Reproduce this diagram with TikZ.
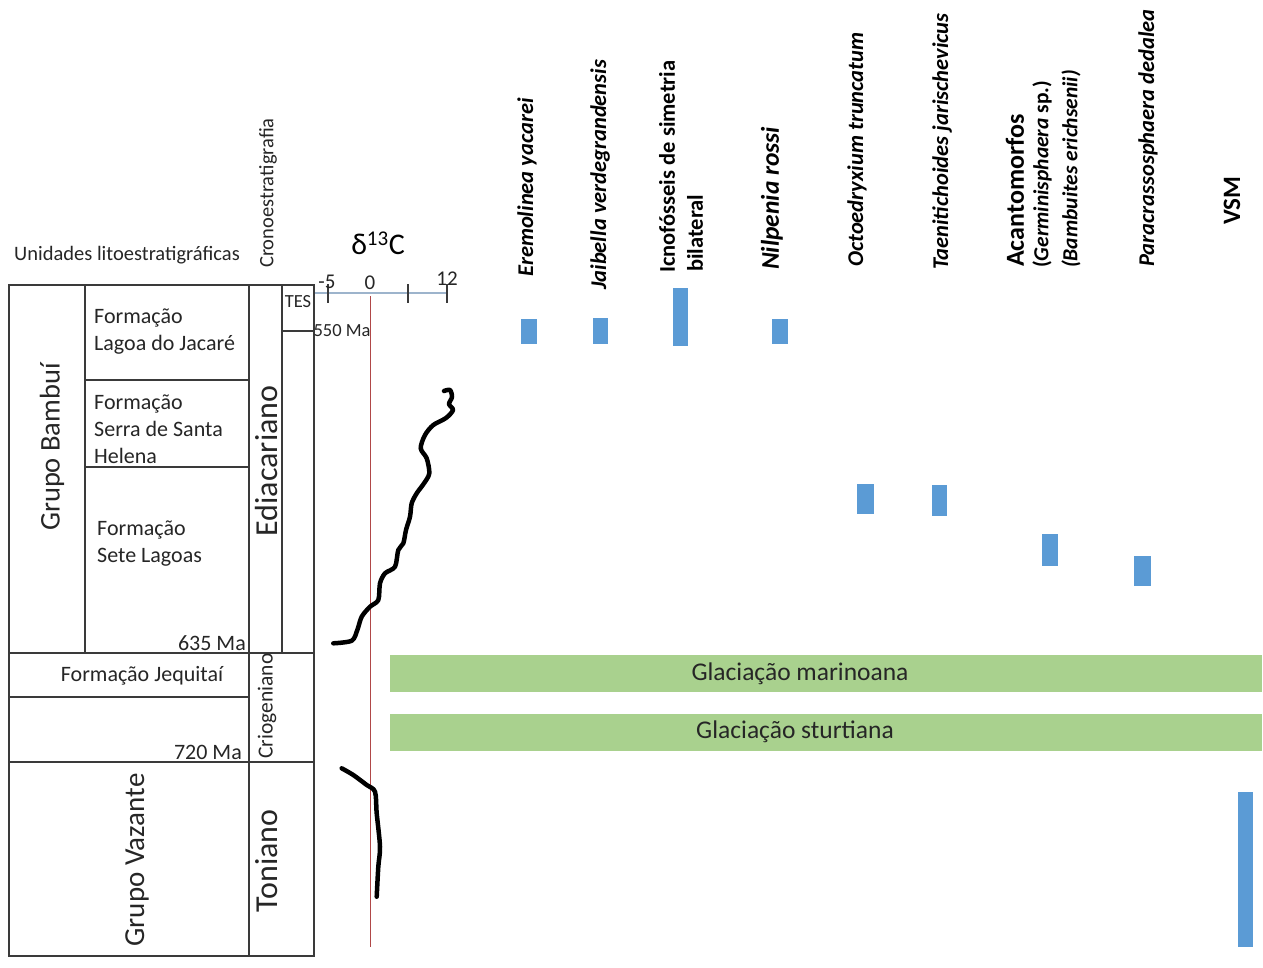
\documentclass[tikz,border=0pt]{standalone}
\usepackage{fontspec}
\setmainfont{Carlito}
\newcommand\fsz[2]{\fontsize{#1}{#2}\selectfont}
\definecolor{barblue}{HTML}{5B9BD5}
\definecolor{glgreen}{HTML}{A9D18E}
\definecolor{axisblue}{HTML}{9DB4CC}
\definecolor{zeroline}{HTML}{B04848}
\definecolor{tcol}{HTML}{3A3A3A}
\tikzset{
  tline/.style={draw=tcol, line width=1.4pt},
  lbl/.style={inner sep=0pt, text=black!85, font=\fsz{22}{27}},
  rlbl/.style={inner sep=0pt, text=black!85, rotate=90},
  species/.style={inner sep=0pt, rotate=90, anchor=west, font=\fsz{22.5}{27}\bfseries\itshape},
  curve/.style={line width=4.5pt, line cap=round, line join=round},
  tick/.style={draw=tcol, line width=1.2pt},
}
\begin{document}
\begin{tikzpicture}[x=1pt,y=-1pt]
\useasboundingbox (0,0) rectangle (1263,967);
\fill[white] (0,0) rectangle (1263,967);

% ---- headers
\node[lbl, anchor=base west, font=\fsz{20.5}{24}] (unid) at (14,260) {Unidades litoestratigráficas};
\node[rlbl, font=\fsz{20.5}{24}] (crono) at (268,193) {Cronoestratigrafia};
\node[inner sep=0pt, font=\fsz{30}{32}] (delta) at (378,243) {δ\textsuperscript{13}C};

% ---- table
\draw[tline] (9,285) rectangle (314,956);
\draw[tline] (85,285) -- (85,653);
\draw[tline] (249,285) -- (249,956);
\draw[tline] (282,285) -- (282,653);
\draw[tline] (85,380) -- (249,380);
\draw[tline] (85,467) -- (249,467);
\draw[tline] (9,653) -- (314,653);
\draw[tline] (9,697) -- (249,697);
\draw[tline] (9,762) -- (314,762);
\draw[tline] (282,331) -- (314,331);

\node[lbl, anchor=west, align=left] (lagoa) at (94,332) {Formação\\Lagoa do Jacaré};
\node[lbl, anchor=west, align=left] (serra) at (94,429) {Formação\\Serra de Santa\\Helena};
\node[lbl, anchor=west, align=left] (sete) at (97,544) {Formação\\Sete Lagoas};
\node[lbl] (jeq) at (142,676) {Formação Jequitaí};
\node[lbl, anchor=base east] (m635) at (246,650) {635 Ma};
\node[lbl, anchor=base east] (m720) at (242,759) {720 Ma};
\node[lbl, font=\fsz{18.5}{20}] (tes) at (298,302) {TES};
\node[lbl, font=\fsz{18.5}{20}] (m550) at (342,331) {550 Ma};

\node[rlbl, font=\fsz{28.5}{30}] (bambui) at (52,447) {Grupo Bambuí};
\node[rlbl, font=\fsz{32}{34}] (edia) at (267,461) {Ediacariano};
\node[rlbl, font=\fsz{21.5}{24}] (crio) at (267,706) {Criogeniano};
\node[rlbl, font=\fsz{32}{34}] (toni) at (267,861) {Toniano};
\node[rlbl, font=\fsz{29}{30}] (vaz) at (137,860) {Grupo Vazante};

% ---- delta 13C axis
\coordinate (axL) at (315,293);
\coordinate (axR) at (447,293);
\draw[axisblue, line width=1.6pt] (axL) -- (axR);
\draw[tick] (328,284) -- (328,303);
\draw[tick] (408,284) -- (408,303);
\draw[tick] (447,284) -- (447,303);
\node[lbl, font=\fsz{21}{24}] (tm5) at (327,282) {-5};
\node[lbl, font=\fsz{21}{24}] (t0) at (370,283) {0};
\node[lbl, font=\fsz{21}{24}] (t12) at (447,279) {12};
\coordinate (z1) at (370,296);
\coordinate (z2) at (370,947);
\draw[zeroline, line width=0.9pt] (z1) -- (z2);

% ---- isotope curves
\draw[curve] plot[smooth, tension=0.5] coordinates {
 (444,391) (450,390) (452,397) (449,404) (453,410) (446,418)
 (433.3,425) (425,435) (420.7,448.3) (426.7,458.3) (429.3,473.3) (424,483.3)
 (416.7,493.3) (411.7,503.3) (410,516.7) (406,530) (403.3,543.3) (398.3,550)
 (395,566.7) (385,573.3) (380,583.3) (378.3,600) (370,606.7) (361.7,616.7)
 (357.3,630) (351.7,640.7) (333.3,643.3)};
\draw[curve] plot[smooth, tension=0.5] coordinates {
 (341.7,768.3) (353.3,775) (366.7,785) (375,791.7) (376.7,813.3) (380,846.7)
 (378.3,866.7) (376.7,896.7)};

% ---- glaciations
\fill[glgreen] (390,655) rectangle (1262,692);
\fill[glgreen] (390,714) rectangle (1262,751);
\node[lbl, font=\fsz{25.5}{28}] (marin) at (800,674) {Glaciação marinoana};
\node[lbl, font=\fsz{25.5}{28}] (sturt) at (795,732) {Glaciação sturtiana};

% ---- fossil labels
\node[species] (erem) at (527,277) {Eremolinea yacarei};
\node[species] (jaib) at (600,290) {Jaibella verdegrandensis};
\node[species, font=\fsz{22.5}{28}\bfseries, align=left] (icno) at (681,273) {Icnofósseis de simetria\\\hspace{1pt}bilateral};
\node[species, font=\fsz{25.5}{28}\bfseries\itshape] (nilp) at (772,270) {Nilpenia rossi};
\node[species] (octo) at (857,267) {Octoedryxium truncatum};
\node[species] (taen) at (942,270) {Taenitichoides jarischevicus};
\node[species, font=\fsz{26}{28}\bfseries] (acan) at (1015,267) {Acantomorfos};
\node[species, font=\fsz{21.5}{24}\bfseries] (germ) at (1042,268) {(\textit{Germinisphaera} sp.)};
\node[species, font=\fsz{21.5}{24}\bfseries\itshape] (bamb) at (1071,268) {(Bambuites erichsenii)};
\node[species] (para) at (1148,267) {Paracrassosphaera dedalea};
\node[species, font=\fsz{25}{28}\bfseries] (vsm) at (1232,225) {VSM};

% ---- occurrence bars
\fill[barblue] (521,319) rectangle (537,344);
\fill[barblue] (593,318) rectangle (608,344);
\fill[barblue] (673,288) rectangle (688,346);
\fill[barblue] (772,319) rectangle (788,344);
\fill[barblue] (857,484) rectangle (874,514);
\fill[barblue] (932,485) rectangle (947,516);
\fill[barblue] (1042,534) rectangle (1058,566);
\fill[barblue] (1134,556) rectangle (1151,586);
\fill[barblue] (1238,792) rectangle (1253,947);
\end{tikzpicture}
\end{document}
